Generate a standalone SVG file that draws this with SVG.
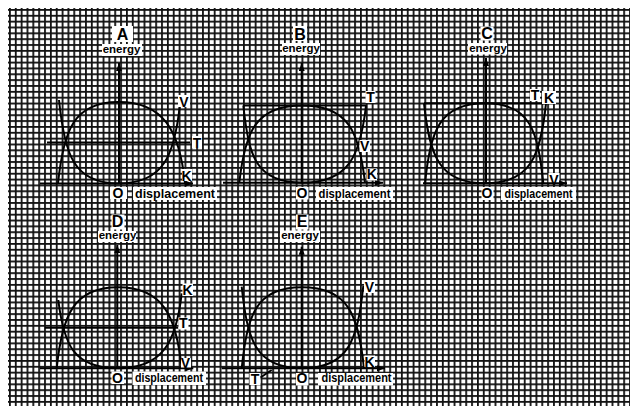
<svg xmlns="http://www.w3.org/2000/svg" width="630" height="406" viewBox="0 0 630 406">
<style>
.bg{fill:#fff}
.grid{fill:url(#g)}
.box{fill:#fff}
.crv{fill:none;stroke:#000;stroke-width:2}
.ax{fill:none;stroke:#000;stroke-width:2;marker-end:url(#ah)}
.lb{font-family:"Liberation Sans",Arial,sans-serif;font-weight:bold;text-anchor:middle;fill:#000}
.ttl{font-size:16px}
.en{font-size:11.5px}
.dis{font-size:12px}
.ltr{font-size:14px}
</style>
<defs>
<pattern id="g" x="9" y="9" width="5.85" height="5.85" patternUnits="userSpaceOnUse">
<rect x="0" y="0" width="5.85" height="1.8" fill="#111"/>
<rect x="0" y="0" width="1.8" height="5.85" fill="#111"/>
</pattern>
<marker id="ah" markerWidth="8" markerHeight="6" refX="8" refY="3" orient="auto" markerUnits="userSpaceOnUse">
<path d="M0,0L8,3L0,6z" fill="#000"/>
</marker>
</defs>
<rect class="bg" x="0" y="0" width="630" height="406"/>
<rect class="grid" x="8" y="8" width="622" height="398"/>

<g id="panelA">
<g id="connectorsA">
<path class="crv" d="M59,100C64.5,154.7 73.7,183.5 118.5,183.5C163.3,183.5 174.5,156.1 180,104"/>
<path class="crv" d="M58,183.5C63.5,130.1 73.7,102 118.5,102C163.3,102 179.5,130.1 185,183.5"/>
<path class="crv" d="M47,142.5H190"/>
<path class="ax" d="M119,183.5V63"/>
<path class="ax" d="M40,183.5H193"/>
</g>
<rect class="box" x="112" y="26" width="21" height="16"/>
<rect class="box" x="102" y="44" width="40" height="12"/>
<rect class="box" x="110" y="187" width="17" height="12"/>
<rect class="box" x="133" y="187" width="84" height="13"/>
<rect class="box" x="192" y="136" width="10" height="12"/>
<rect class="box" x="178" y="95" width="12" height="12"/>
<rect class="box" x="182" y="169" width="10" height="12"/>
<text class="lb ttl" x="122.5" y="40">A</text>
<text class="lb en" x="121.5" y="52.5">energy</text>
<text class="lb ltr" x="118" y="197.5">O</text>
<text class="lb dis" x="175" y="197.5" textLength="80" lengthAdjust="spacingAndGlyphs">displacement</text>
<text class="lb ltr" x="197" y="147.5">T</text>
<text class="lb ltr" x="184" y="106.5">V</text>
<text class="lb ltr" x="186.5" y="180.5">K</text>
</g>

<g id="panelB">
<g id="connectorsB">
<path class="crv" d="M243.3,105.5C249,156.1 255.3,182.7 302,182.7C348.7,182.7 360.3,156.1 366,105.5"/>
<path class="crv" d="M239.3,182.7C245,132.1 255.3,105.5 302,105.5C348.7,105.5 359.3,132.1 365,182.7"/>
<path class="crv" d="M243.3,105.5H366"/>
<path class="ax" d="M301.7,182.7V63"/>
<path class="ax" d="M223,182.7H383"/>
</g>
<rect class="box" x="293" y="26" width="14" height="15"/>
<rect class="box" x="282" y="43" width="38" height="12"/>
<rect class="box" x="296" y="187" width="12.5" height="12.5"/>
<rect class="box" x="316" y="187" width="77" height="13"/>
<rect class="box" x="365.5" y="91" width="10" height="12"/>
<rect class="box" x="359.5" y="140" width="10.5" height="12"/>
<rect class="box" x="366.5" y="168.5" width="10.5" height="12"/>
<text class="lb ttl" x="300" y="39.5">B</text>
<text class="lb en" x="301" y="52">energy</text>
<text class="lb ltr" x="302" y="197.7">O</text>
<text class="lb dis" x="354.5" y="197.5" textLength="72" lengthAdjust="spacingAndGlyphs">displacement</text>
<text class="lb ltr" x="370.5" y="101.7">T</text>
<text class="lb ltr" x="364.7" y="150.7">V</text>
<text class="lb ltr" x="371.7" y="179.3">K</text>
</g>

<g id="panelC">
<g id="connectorsC">
<path class="crv" d="M424,103.3C429.6,155.7 439.1,183.3 485,183.3C530.9,183.3 540.4,155.7 546,103.3"/>
<path class="crv" d="M425,183.3C430.6,130.9 439.1,103.3 485,103.3C530.9,103.3 537.7,130.9 543.3,183.3"/>
<path class="crv" d="M424,103.3H546"/>
</g>
<rect class="box" x="480.5" y="26.5" width="13" height="14"/>
<rect class="box" x="468" y="43" width="39" height="11.5"/>
<rect class="box" x="481.5" y="187" width="12" height="13"/>
<rect class="box" x="501" y="187" width="75" height="13"/>
<rect class="box" x="530" y="89" width="10" height="12"/>
<rect class="box" x="542" y="91" width="14" height="13"/>
<rect class="box" x="548.5" y="173" width="11" height="10"/>
<path class="ax" d="M486,183.3V58"/>
<path class="ax" d="M423,183.3H567"/>
<text class="lb ttl" x="487" y="39">C</text>
<text class="lb en" x="488" y="52">energy</text>
<text class="lb ltr" x="487" y="197.7">O</text>
<text class="lb dis" x="538.5" y="197.5" textLength="68" lengthAdjust="spacingAndGlyphs">displacement</text>
<text class="lb ltr" x="535" y="100">T</text>
<text class="lb ltr" x="549" y="103.3">K</text>
<text class="lb ltr" x="554" y="185">V</text>
</g>

<g id="panelD">
<g id="connectorsD">
<path class="crv" d="M58.3,300C63.7,344.7 73.6,368.3 118,368.3C162.4,368.3 176.3,342.4 181.7,293.3"/>
<path class="crv" d="M56.7,368.3C62.1,315.2 73.6,287.3 118,287.3C162.4,287.3 176.3,315.2 181.7,368.3"/>
<path class="crv" d="M45,327.8H178"/>
<path class="ax" d="M117.3,368.3V245"/>
<path class="ax" d="M40,368.3H193.3"/>
</g>
<rect class="box" x="111.5" y="214.5" width="13" height="15"/>
<rect class="box" x="98" y="231" width="38" height="11"/>
<rect class="box" x="111.5" y="371.5" width="12.5" height="12.5"/>
<rect class="box" x="132.5" y="371.5" width="73.5" height="13.5"/>
<rect class="box" x="182.5" y="283.5" width="10.5" height="12.5"/>
<rect class="box" x="178.5" y="317.5" width="10" height="12"/>
<rect class="box" x="181" y="358" width="10" height="9.5"/>
<text class="lb ttl" x="117.5" y="227.3">D</text>
<text class="lb en" x="117.5" y="239.3">energy</text>
<text class="lb ltr" x="117.5" y="382.7">O</text>
<text class="lb dis" x="169" y="381.7" textLength="68" lengthAdjust="spacingAndGlyphs">displacement</text>
<text class="lb ltr" x="187.5" y="295">K</text>
<text class="lb ltr" x="183.3" y="328.3">T</text>
<text class="lb ltr" x="185.5" y="368.3">V</text>
</g>

<g id="panelE">
<g id="connectorsE">
<path class="crv" d="M241.7,286.7C247.4,340.1 255.3,368.3 302,368.3C348.7,368.3 357.6,339.9 363.3,286"/>
<path class="crv" d="M241.7,368.3C247.4,315.2 255.3,287.3 302,287.3C348.7,287.3 358.3,315.2 364,368.3"/>
<path class="ax" d="M301.7,368.3V246.7"/>
<path class="ax" d="M221.7,368.3H385"/>
</g>
<rect class="box" x="296" y="214.5" width="12.5" height="15"/>
<rect class="box" x="280" y="230.5" width="40" height="11.5"/>
<rect class="box" x="296" y="373" width="12.5" height="12.5"/>
<rect class="box" x="318" y="373" width="75" height="12.5"/>
<rect class="box" x="364" y="280" width="11" height="13"/>
<rect class="box" x="364.5" y="355.5" width="10.5" height="11.5"/>
<rect class="box" x="249.5" y="373" width="11" height="12"/>
<path class="crv" d="M260.5,377.5L271.7,370"/>
<text class="lb ttl" x="302" y="227.3">E</text>
<text class="lb en" x="300" y="239">energy</text>
<text class="lb ltr" x="302" y="382.7">O</text>
<text class="lb dis" x="356.5" y="382.3" textLength="70" lengthAdjust="spacingAndGlyphs">displacement</text>
<text class="lb ltr" x="369.5" y="291.7">V</text>
<text class="lb ltr" x="369.5" y="366.7">K</text>
<text class="lb ltr" x="255" y="384">T</text>
</g>
</svg>
